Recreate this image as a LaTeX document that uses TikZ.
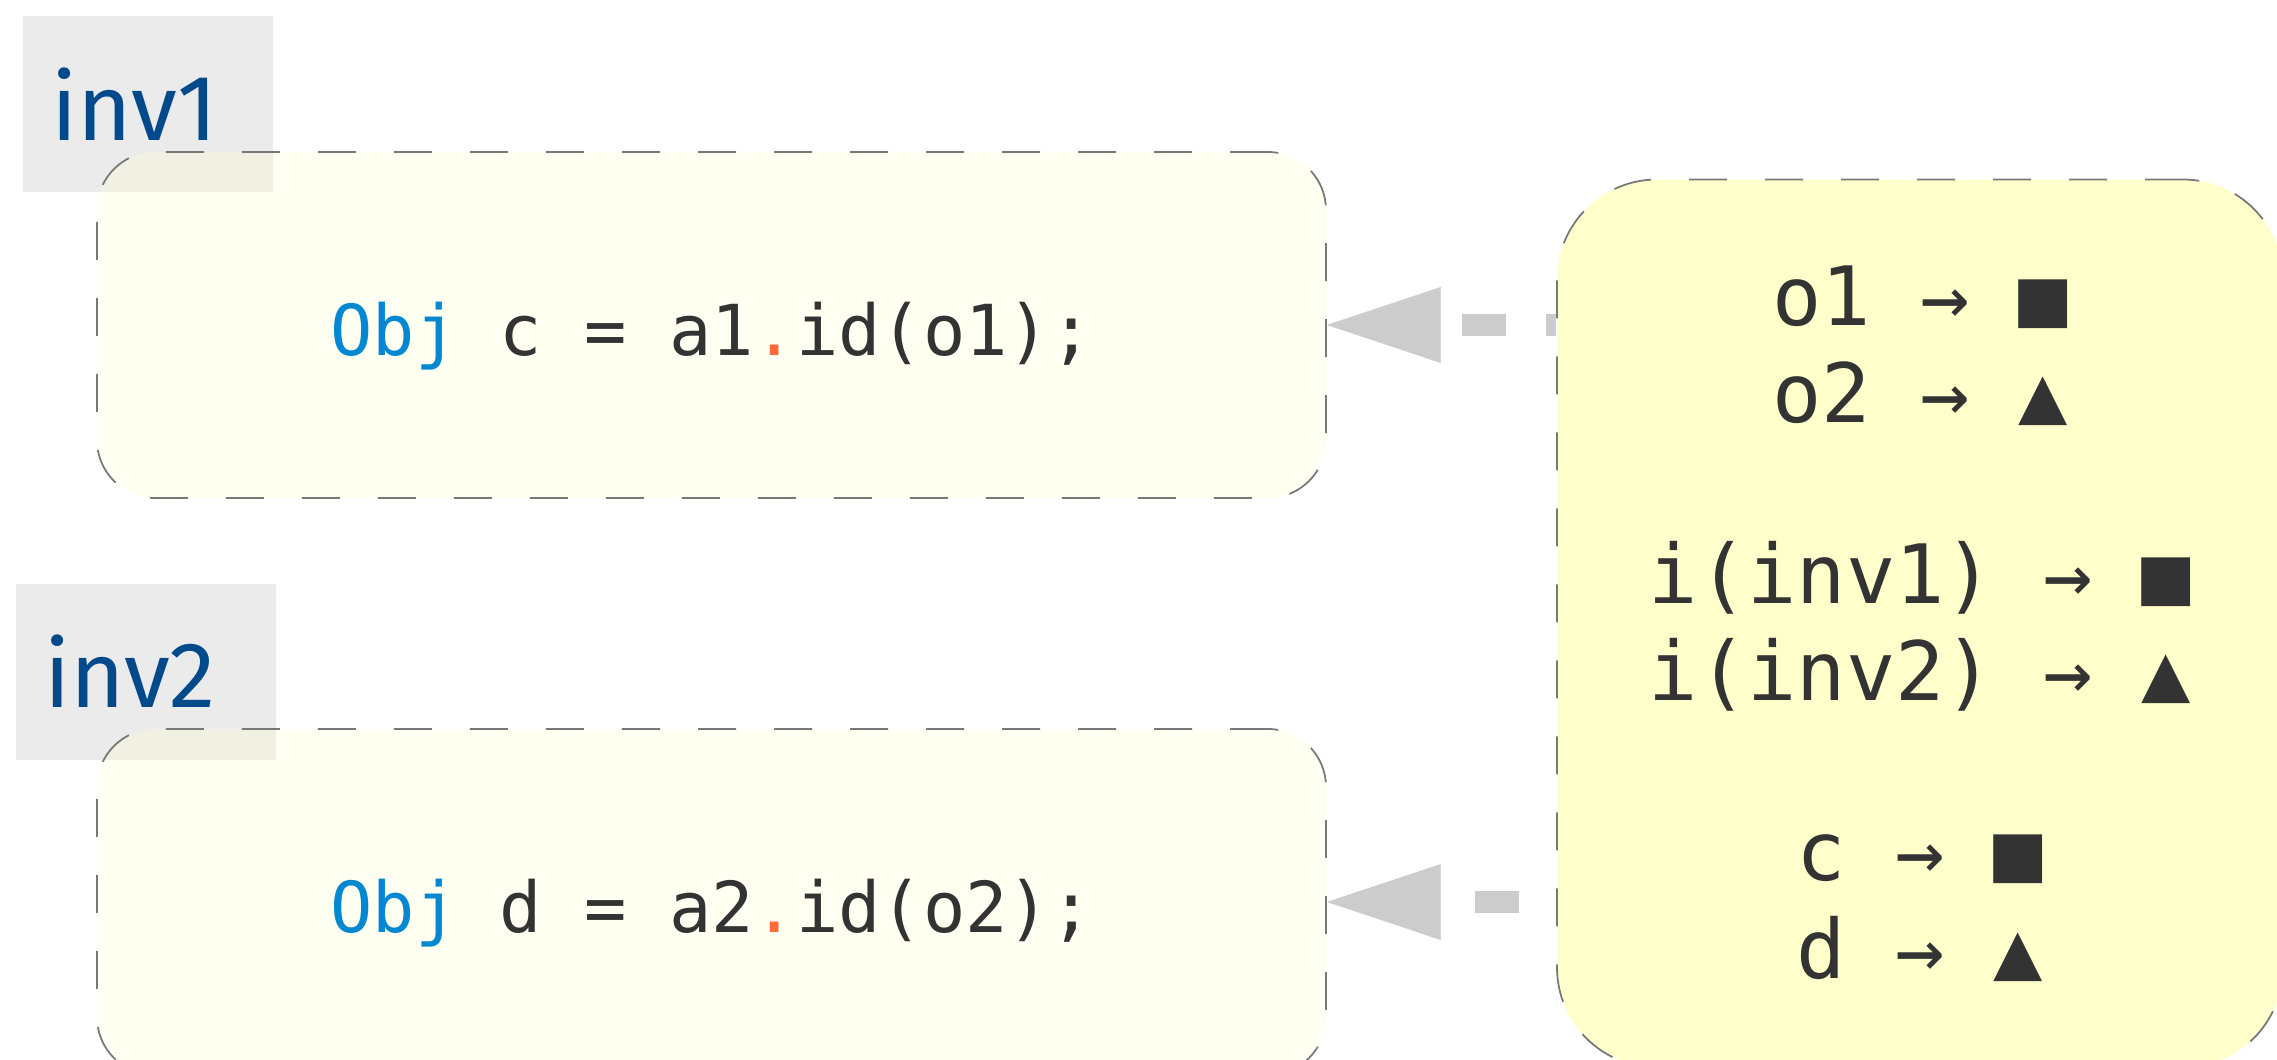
\documentclass[tikz,border=0pt]{standalone}
\usepackage{fontspec}
\usetikzlibrary{arrows.meta}
\newfontfamily\codefont{DejaVu Sans Mono}
\newfontfamily\handfont{Fira Sans}
\definecolor{labelgray}{RGB}{235,235,235}
\definecolor{notefill}{RGB}{255,255,204}
\definecolor{bordergray}{RGB}{120,120,120}
\definecolor{codeblack}{RGB}{51,51,51}
\definecolor{kwblue}{RGB}{2,136,209}
\definecolor{dotorange}{RGB}{255,107,53}
\definecolor{invblue}{RGB}{0,73,139}
\definecolor{linkgray}{RGB}{204,204,204}
\newcommand{\kwtext}[1]{{\color{kwblue}#1}}
\newcommand{\calldot}{{\color{dotorange}.}}
\tikzset{
    invlabel/.style={fill=labelgray, minimum height=1.76cm, inner xsep=0.28cm, inner ysep=0pt,
        align=left, text=invblue, font=\handfont\fontsize{26.5}{30}\selectfont},
    codebox/.style={draw=bordergray, line width=0.5pt, dash pattern=on 0.38cm off 0.38cm,
        rounded corners=0.58cm, fill=notefill, fill opacity=0.25, text opacity=1,
        minimum width=12.29cm, minimum height=3.46cm, inner sep=0pt, text=codeblack,
        text height=17.6pt, text depth=0pt, font=\codefont\fontsize{20}{24}\selectfont},
    membox/.style={draw=bordergray, line width=0.5pt, dash pattern=on 0.38cm off 0.38cm,
        rounded corners=1cm, fill=notefill, minimum width=7.26cm, minimum height=8.88cm,
        inner sep=0pt, align=center, text=codeblack, font=\codefont\fontsize{23.3}{27.7}\selectfont},
    link/.style={draw=linkgray, line width=0.22cm, dash pattern=on 0.44cm off 0.40cm,
        -{Triangle[length=1.14cm, width=0.76cm, line width=0.1pt]}}
}
\begin{document}
\begin{tikzpicture}
        \useasboundingbox (0,0) rectangle (22.77,-10.59);
        \clip (0,0) rectangle (22.77,-10.59);
        % invocation labels
        \node [invlabel, text width=1.94cm] (inv1) at (1.48,-1.04) {inv1};
        \node [invlabel, text width=2.04cm] (inv2) at (1.46,-6.715) {inv2};
        % code boxes
        \node [codebox] (call1) at (7.115,-3.25) {\kwtext{Obj} c = a1\calldot id(o1);};
        \node [codebox] (call2) at (7.115,-9.02) {\kwtext{Obj} d = a2\calldot id(o2);};
        % identity table
        \node [membox] (mem) at (19.20,-6.235) {o1 → ■\\ o2 → ▲\\[0.83cm]
            i(inv1) → ■\\ i(inv2) → ▲\\[0.83cm]
            c → ■\\ d → ▲};
        \draw [link, dash phase=0.34cm] (mem.west |- call1.east) -- (call1.east);
        \draw [link, dash phase=0.47cm] (mem.west |- call2.east) -- (call2.east);
    \end{tikzpicture}
\end{document}
